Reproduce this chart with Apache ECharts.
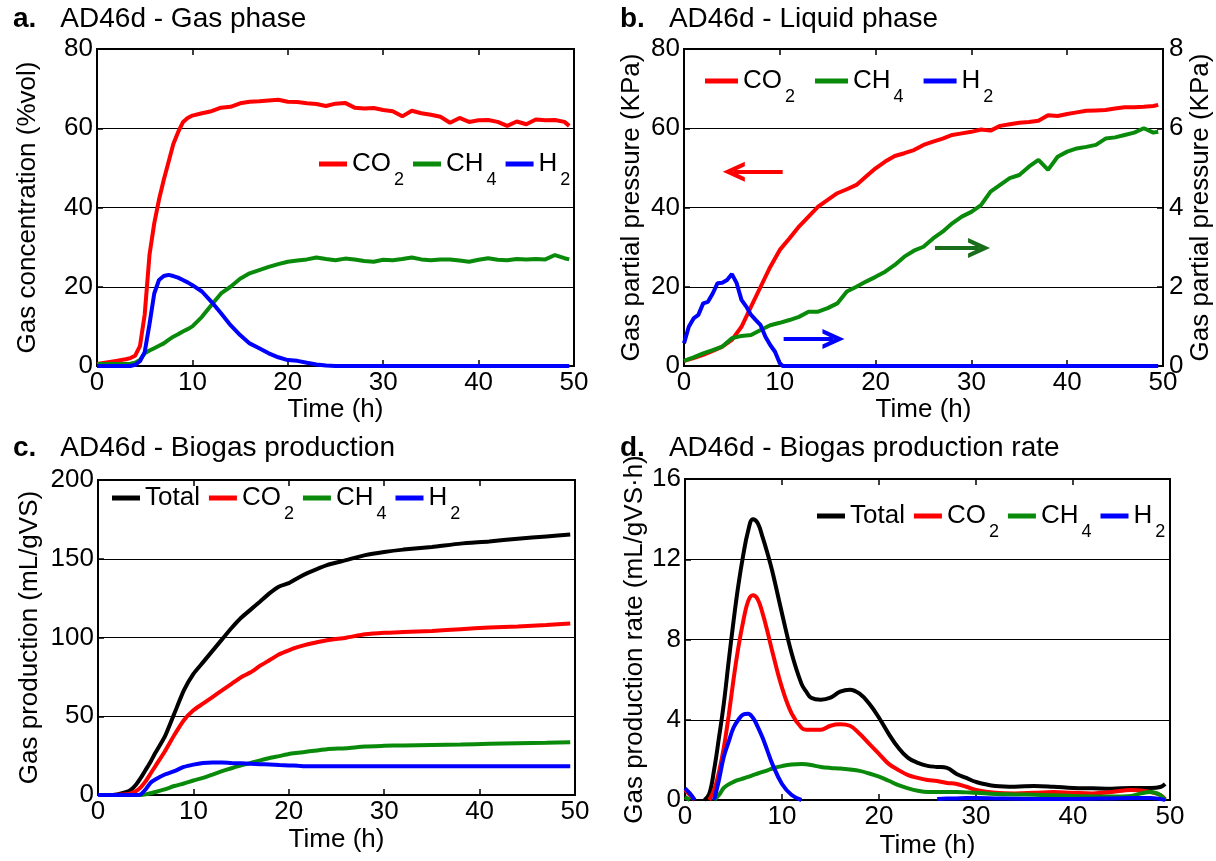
<!DOCTYPE html>
<html><head><meta charset="utf-8">
<script src="https://cdn.jsdelivr.net/npm/echarts@6/dist/echarts.min.js"></script>
<style>html,body{margin:0;padding:0;background:#fff}#c{width:1216px;height:861px}</style>
</head><body><div id="c"></div>
<script>
// ---------- Panel a: gas phase (%vol) ----------
const tA = [0,1,2,3,3.5,4,4.5,5,5.5,6,6.5,7,7.5,8,8.5,9,9.5,10,11,12,13,14,15,16,17,18,19,20,21,22,23,24,25,26,27,28,29,30,31,32,33,34,35,36,37,38,39,40,41,42,43,44,45,46,47,48,49,49.5];
const co2A = [0.5,0.9,1.3,1.7,2.0,2.6,5,13,28,36,42,47,51.5,56,59,61.5,62.6,63.2,63.8,64.3,65.2,65.4,66.3,66.7,66.8,67,67.2,66.7,66.6,66.3,66.1,65.6,66.2,66.4,65.2,65.0,65.1,64.6,64.3,63.0,64.4,63.8,63.4,62.9,61.4,62.6,61.6,62.0,62.1,61.6,60.6,61.7,61.0,62.2,62.0,62.1,61.6,60.6];
const ch4A = [0.5,0.5,0.5,0.5,0.6,0.8,1.5,3.2,3.9,4.5,5.1,5.7,6.6,7.4,8.0,8.7,9.3,10,12.4,15.4,18.3,20,22,23.4,24.2,25,25.7,26.3,26.6,26.9,27.4,27,26.7,27.1,26.9,26.5,26.3,26.8,26.7,27,27.4,26.9,26.7,26.9,26.9,26.6,26.3,26.8,27.2,26.8,26.7,27,26.9,27,26.9,28.0,27.2,26.9];
const h2A = [0,0,0,0,0,0.3,1.2,3.5,10.5,18.3,21.7,22.7,23,22.7,22.3,21.7,21.1,20.4,18.8,16.2,13.3,10.3,7.8,5.7,4.5,3.2,2.2,1.5,1.3,0.8,0.4,0.1,0,0,0,0,0,0,0,0,0,0,0,0,0,0,0,0,0,0,0,0,0,0,0,0,0,0];

// ---------- Panel b: liquid phase (KPa) ----------
const tB = [0,1,2,3,4,5,6,7,8,9,10,11,12,13,14,15,16,17,18,19,20,21,22,23,24,25,26,27,28,29,30,31,32,33,34,35,36,37,38,39,40,41,42,43,44,45,46,47,48,49,49.5];
const co2B = [1.3,2.0,2.8,3.8,4.9,6.6,9.9,15,20,25,29.3,32.2,35.2,37.7,40.2,41.9,43.6,44.6,45.7,47.8,49.9,51.6,53,53.7,54.5,55.8,56.6,57.4,58.3,58.7,59.1,59.7,59.4,60.6,61,61.4,61.6,61.9,63.3,63.1,63.6,64.0,64.4,64.5,64.6,65.0,65.3,65.3,65.4,65.6,65.9];
const ch4B = [0.13,0.22,0.32,0.4,0.49,0.70,0.76,0.78,0.91,1.03,1.09,1.16,1.24,1.37,1.37,1.46,1.58,1.88,2.0,2.13,2.25,2.38,2.55,2.76,2.91,3.01,3.22,3.39,3.6,3.77,3.89,4.06,4.4,4.57,4.74,4.82,5.03,5.2,4.95,5.28,5.41,5.49,5.53,5.58,5.74,5.77,5.83,5.89,6.0,5.89,5.91];
const tBH2 = [0,0.5,1,1.5,2,2.5,3,3.5,4,4.5,5,5.5,6,6.5,7,7.5,8,8.5,9,9.5,10,10.3,49.5];
const h2B = [0.57,0.99,1.2,1.29,1.58,1.62,1.83,2.09,2.1,2.17,2.32,2.09,1.67,1.5,1.29,1.16,1.03,0.74,0.53,0.36,0.07,0,0];

// ---------- Panel c: biogas production (mL/gVS) ----------
const tC = [0,1,2,3,3.5,4,4.5,5,5.5,6,7,8,9,10,11,12,13,14,15,16,17,18,19,20,21,22,24,26,28,30,32,35,38,41,44,47,49.5];
const totC = [0,0,0.4,1.9,3.6,6.7,11,16,21,26.6,37,51.7,66.4,76.9,84.2,91.5,98.8,106,112.5,117.7,122.9,128.2,132.4,134.5,138,141,146,149.1,152.3,154.3,155.8,157.5,159.6,161,162.7,164.2,165.4];
const co2C = [0,0,0.2,0.5,1.2,2.5,5,8.8,13.5,18.2,27.6,38.1,47.5,53.8,58,62.2,66.4,70.6,74.8,77.9,82.1,85.7,89.4,91.9,94,95.7,98.2,99.9,102,103,103.5,104.2,105.3,106.3,107,108,108.9];
const ch4C = [0,0,0,0,0,0,0,0.4,1.1,1.9,3.6,5.7,7.3,9.2,10.9,13,15.1,17,18.8,20.3,22,23.5,24.7,26,26.8,27.6,29.1,29.7,30.8,31.2,31.5,31.8,32.1,32.5,32.8,33.1,33.5];
const h2C = [0,0,0,0,0,0,0.5,3.6,7.7,9.8,13,15.1,17.8,19.3,20.3,20.7,20.6,20.3,20.1,19.9,19.6,19.3,19,18.8,18.5,18.2,18.2,18.2,18.2,18.2,18.2,18.2,18.2,18.2,18.2,18.2,18.2];

// ---------- Panel d: biogas production rate (mL/gVS·h) ----------
const tD = [0,0.5,1,1.5,2,2.5,3,3.5,4,4.5,5,5.5,6,6.5,7,7.5,8,8.5,9,10,11,12,12.5,13,14,15,16,17,18,19,20,21,22,23,24,25,26,27,28,29,30,32,34,36,38,40,42,44,46,47,48,49,49.5];
const totD = [null,null,null,null,0,0.3,1.5,3.1,4.8,6.9,8.9,10.7,12.2,13.4,14,13.8,13.1,12.3,11.4,9.3,7.3,5.8,5.4,5.1,5.0,5.1,5.4,5.5,5.3,4.8,4.1,3.3,2.6,2.1,1.85,1.7,1.65,1.6,1.3,1.1,0.9,0.7,0.66,0.7,0.66,0.6,0.58,0.56,0.6,0.6,0.6,0.65,0.8];
const co2D = [0.5,0.25,0,null,null,0,0.5,1.4,2.6,4.2,6.0,7.6,8.9,9.9,10.2,10.0,9.3,8.4,7.4,5.6,4.3,3.6,3.5,3.5,3.5,3.7,3.77,3.7,3.3,2.8,2.3,1.8,1.5,1.24,1.1,1.0,0.95,0.85,0.8,0.66,0.5,0.36,0.33,0.36,0.4,0.36,0.33,0.4,0.5,0.48,0.4,0.25,0.05];
const ch4D = [0.15,0,null,null,null,null,0,0.25,0.6,0.78,0.9,1.0,1.07,1.15,1.24,1.32,1.4,1.48,1.57,1.69,1.77,1.79,1.78,1.74,1.65,1.6,1.57,1.52,1.45,1.32,1.16,0.96,0.74,0.58,0.46,0.4,0.4,0.4,0.4,0.38,0.36,0.3,0.28,0.26,0.24,0.2,0.18,0.17,0.2,0.33,0.4,0.25,0];
const h2D = [0.58,0.33,0,null,null,null,0,1.0,2.15,2.9,3.6,4.0,4.26,4.3,4.1,3.65,3.1,2.45,1.8,0.8,0.25,0,null,null,null,null,null,null,null,null,null,null,null,null,null,null,0.05,0.07,0.08,0.1,0.1,0.08,0.06,0.05,0.05,0.05,0.06,0.08,0.1,0.1,0.1,0.05,0];

// ---------- labels ----------
const titlesText = ['AD46d - Gas phase','AD46d - Liquid phase','AD46d - Biogas production','AD46d - Biogas production rate'];
const panelLetters = ['a.','b.','c.','d.'];
const yNames = ['Gas concentration (%vol)','Gas partial pressure (KPa)','Gas production (mL/gVS)','Gas production rate (mL/gVS\u00b7h)'];
const yRightNameB = 'Gas partial pressure (KPa)';
const xName = 'Time (h)';
// arrows in panel b (data coordinates: [from, to])
const arrowRed = [[10.3,49],[5.2,49]];      // left axis units
const arrowGreen = [[26.2,2.98],[30.8,2.98]]; // right axis units
const arrowBlue = [[10.4,0.68],[15.6,0.68]];  // right axis units

const FONT = '"Liberation Sans", Arial, Helvetica, sans-serif';
const RED = '#ff0000', GREEN = '#0a8a0a', BLUE = '#0000ff', BLACK = '#000000';
const zip = (t, v) => t.map((x, i) => [x, v[i]]);

const grids = [
  {left:97, top:49, width:477, height:317},
  {left:684, top:49, width:479, height:317},
  {left:98, top:480, width:477, height:315},
  {left:685, top:479, width:485, height:321}
].map(g => Object.assign({show:true, borderColor:'#000', borderWidth:2, backgroundColor:'transparent'}, g));

const axLine = {show:true, onZero:false, lineStyle:{color:'#000', width:2}};
const axTick = {show:true, inside:true, length:6, lineStyle:{color:'#000', width:1.5}};
const txt = {fontSize:26, color:'#000', fontFamily:FONT};

const xNameGaps = [29, 29, 32, 33];
const xAxis = [];
for (let i = 0; i < 4; i++) {
  xAxis.push({type:'value', gridIndex:i, min:0, max:50, interval:10, position:'bottom',
    axisLine:axLine, axisTick:axTick, axisLabel:Object.assign({margin:4}, txt), splitLine:{show:false},
    name:xName, nameLocation:'middle', nameGap:xNameGaps[i], nameTextStyle:txt});
  xAxis.push({type:'value', gridIndex:i, min:0, max:50, interval:10, position:'top',
    axisLine:axLine, axisTick:axTick, axisLabel:{show:false}, splitLine:{show:false}});
}
function yAx(gi, max, interval, name, gap, extra) {
  return Object.assign({type:'value', gridIndex:gi, min:0, max:max, interval:interval, position:'left',
    axisLine:axLine, axisTick:axTick, axisLabel:Object.assign({margin:4}, txt),
    splitLine:{show:true, lineStyle:{color:'#000', width:1}},
    name:name, nameLocation:'middle', nameRotate:90, nameGap:gap, nameTextStyle:txt}, extra || {});
}
const yAxis = [
  yAx(0, 80, 20, yNames[0], 56),
  yAx(1, 80, 20, yNames[1], 39),
  yAx(1, 8, 2, yRightNameB, 25, {position:'right', splitLine:{show:false}, axisLabel:Object.assign({margin:6}, txt)}),
  yAx(2, 200, 50, yNames[2], 55),
  yAx(3, 16, 4, yNames[3], 37)
];

function line(name, color, data, xi, yi, extra) {
  return Object.assign({type:'line', name:name, data:data, xAxisIndex:xi, yAxisIndex:yi,
    showSymbol:false, symbol:'none', color:color, lineStyle:{color:color, width:4},
    clip:true, animation:false, silent:true}, extra || {});
}
const chevron = 'path://M0,18 L10,0 L20,18 L15.5,18 L10,8.5 L4.5,18 Z';
function arrow(pts, color) {
  return {silent:true, symbol:['none', chevron], symbolSize:[20, 22], label:{show:false},
    lineStyle:{color:color, width:4, type:'solid'}, emphasis:{disabled:true},
    data:[[{coord:pts[0]}, {coord:pts[1]}]]};
}

const series = [
  line('CO2', RED, zip(tA, co2A), 0, 0),
  line('CH4', GREEN, zip(tA, ch4A), 0, 0),
  line('H2', BLUE, zip(tA, h2A), 0, 0),
  line('CO2', RED, zip(tB, co2B), 2, 1, {markLine:arrow(arrowRed, RED)}),
  line('CH4', GREEN, zip(tB, ch4B), 2, 2, {markLine:arrow(arrowGreen, '#1a6e1a')}),
  line('H2', BLUE, zip(tBH2, h2B), 2, 2, {markLine:arrow(arrowBlue, BLUE)}),
  line('Total', BLACK, zip(tC, totC), 4, 3, {smooth:0.2}),
  line('CO2', RED, zip(tC, co2C), 4, 3, {smooth:0.2}),
  line('CH4', GREEN, zip(tC, ch4C), 4, 3, {smooth:0.2}),
  line('H2', BLUE, zip(tC, h2C), 4, 3, {smooth:0.2}),
  line('Total', BLACK, zip(tD, totD), 6, 4, {smooth:0.4}),
  line('CO2', RED, zip(tD, co2D), 6, 4, {smooth:0.4}),
  line('CH4', GREEN, zip(tD, ch4D), 6, 4, {smooth:0.4}),
  line('H2', BLUE, zip(tD, h2D), 6, 4, {smooth:0.4})
];

const legendRich = {
  n:{fontSize:26, lineHeight:26, verticalAlign:'top', color:'#000', fontFamily:FONT},
  s:{fontSize:18, lineHeight:18, verticalAlign:'top', padding:[20,0,0,3], color:'#000', fontFamily:FONT}
};
const legFmt = name => {
  const m = name.match(/^([A-Za-z]+)(\d)$/);
  return m ? '{n|' + m[1] + '}{s|' + m[2] + '}' : '{n|' + name + '}';
};
function legend(data, left, top, w, gap) {
  return {data:data, left:left, top:top, orient:'horizontal', padding:0, icon:'rect',
    itemWidth:w, itemHeight:5, itemGap:gap, itemStyle:{borderWidth:0},
    formatter:legFmt, selectedMode:false,
    textStyle:{color:'#000', fontSize:26, fontFamily:FONT, rich:legendRich}};
}
const legends = [
  legend(['CO2','CH4','H2'], 319, 151, 28, 9),
  legend(['CO2','CH4','H2'], 705, 68, 33, 20),
  legend(['Total','CO2','CH4','H2'], 112, 485, 28, 9),
  legend(['Total','CO2','CH4','H2'], 817, 503, 28, 9)
];

const titlePos = [[13,5],[620,5],[13,434],[620,434]];
const title = titlePos.map((p, i) => ({
  left:p[0], top:p[1], padding:0,
  text:'{b|' + panelLetters[i] + '}{t|' + titlesText[i] + '}',
  textStyle:{fontWeight:'normal', fontSize:28, color:'#000', fontFamily:FONT,
    rich:{b:{fontWeight:'bold', fontSize:28, color:'#000', fontFamily:FONT},
          t:{fontSize:28, color:'#000', fontFamily:FONT, padding:[0,0,0,24]}}}
}));

const chart = echarts.init(document.getElementById('c'), null, {renderer:'canvas'});
chart.setOption({
  animation:false, backgroundColor:'#fff',
  textStyle:{fontFamily:FONT},
  title:title, legend:legends, grid:grids, xAxis:xAxis, yAxis:yAxis, series:series
});
</script></body></html>
